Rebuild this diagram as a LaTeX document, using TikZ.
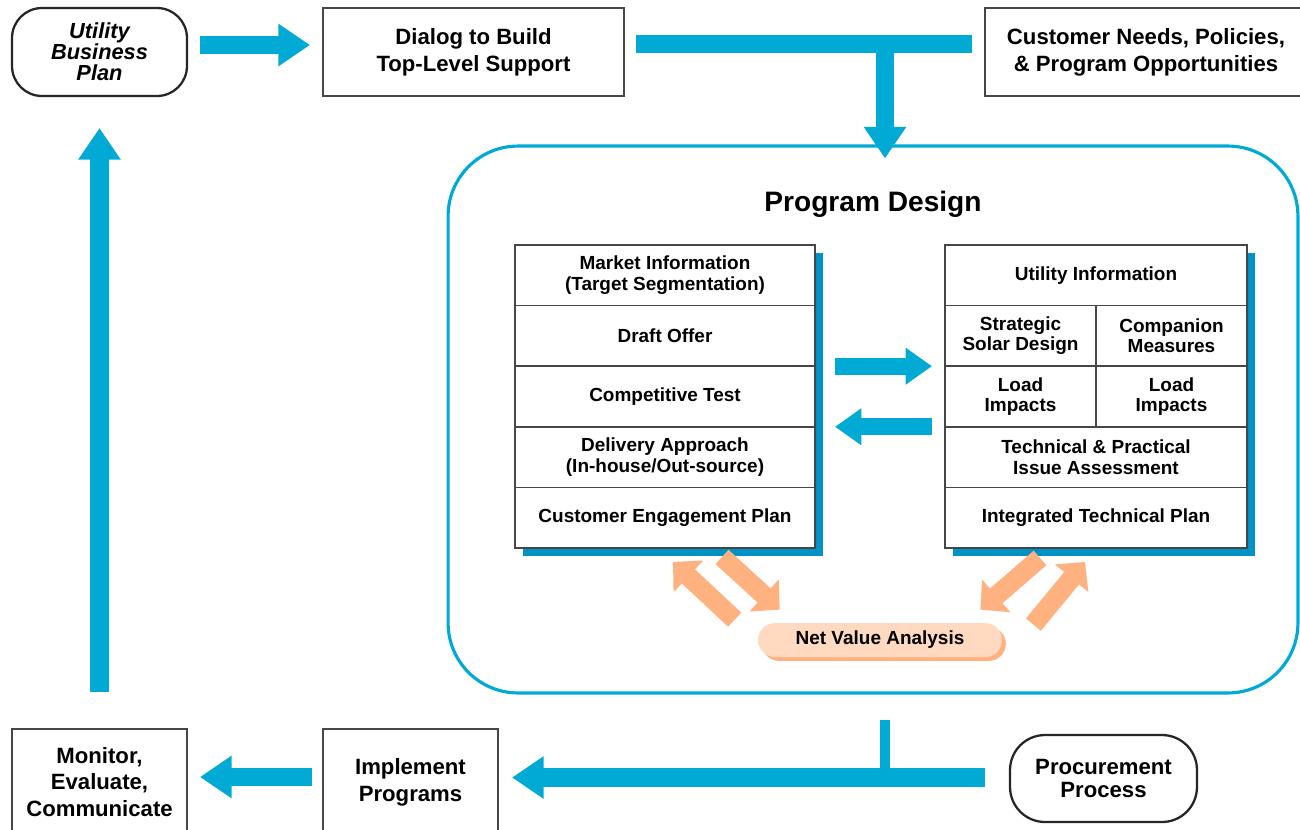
\documentclass[tikz,border=0pt]{standalone}
\usepackage{fontspec}
\setmainfont{Liberation Sans}
\usetikzlibrary{positioning, arrows.meta, calc, backgrounds, shadows}

\definecolor{flowblue}{RGB}{0,170,212}
\definecolor{shadeblue}{RGB}{0,146,196}
\definecolor{peach}{RGB}{255,178,128}
\definecolor{peachlight}{RGB}{255,218,192}
\definecolor{boxgray}{RGB}{70,70,70}

\newcommand\flowtop{\fontsize{12.6}{15.2}\selectfont\bfseries}
\newcommand\flowplan{\fontsize{12.4}{12}\selectfont\bfseries\itshape}
\newcommand\flowcell{\fontsize{10.8}{11.6}\selectfont\bfseries}
\newcommand\flowtitle{\fontsize{16}{19}\selectfont\bfseries}

\begin{document}
\begin{tikzpicture}[
    x=0.02cm, y=-0.02cm,
    plainbox/.style={draw=boxgray, line width=1.3pt, fill=white, align=center, font=\flowtop, minimum width=3.5cm, minimum height=1.76cm, outer sep=0pt},
    ovalbox/.style={plainbox, draw=black!85, rounded corners=0.6cm},
    cell/.style={draw=boxgray, line width=0.9pt, fill=white, align=center, font=\flowcell, minimum width=6cm, minimum height=1.212cm, inner sep=2pt, outer sep=0pt},
    halfcell/.style={cell, minimum width=3.02cm},
    pill/.style={fill=peachlight, rounded corners=0.34cm, minimum width=4.88cm, minimum height=0.68cm, font=\flowcell, drop shadow={shadow xshift=2.2pt, shadow yshift=-2.2pt, fill=peach, opacity=1}},
    bluearrow/.style={draw=flowblue, line width=10.5pt, -{Triangle[length=18pt, width=23pt]}},
    blueline/.style={draw=flowblue, line width=10.5pt},
    midarrow/.style={draw=flowblue, line width=9.5pt, -{Triangle[length=15pt, width=20pt]}},
    peacharrow/.style={draw=peach, line width=11pt, -{Triangle[length=12pt, width=24pt]}}
]
    \useasboundingbox (0,0) rectangle (1300,829);

    % Top row
    \node[ovalbox, font=\flowplan] (plan) at (99.5,52) {Utility\\Business\\Plan};
    \node[plainbox, minimum width=6.02cm] (dialog) at (473.5,52) {Dialog to Build\\Top-Level Support};
    \node[plainbox, minimum width=6.44cm] (needs) at (1146,52) {Customer Needs, Policies,\\\& Program Opportunities};

    % Program design frame
    \node[draw=flowblue, line width=1.8pt, rounded corners=1.4cm, minimum width=17cm, minimum height=10.94cm] (design) at (873,419.5) {};
    \node[font=\flowtitle] (title) at (873,204) {Program Design};

    % Market column
    \node[cell] (m1) at (665,275.3) {Market Information\\(Target Segmentation)};
    \node[cell, below=0pt of m1] (m2) {Draft Offer};
    \node[cell, below=0pt of m2] (m3) {Competitive Test};
    \node[cell, below=0pt of m3] (m4) {Delivery Approach\\(In-house/Out-source)};
    \node[cell, below=0pt of m4] (m5) {Customer Engagement Plan};

    % Utility column
    \node[cell, minimum width=6.04cm] (r1) at (1096,275.3) {Utility Information};
    \node[halfcell, anchor=north west] (r2a) at (r1.south west) {Strategic\\Solar Design};
    \node[halfcell, right=0pt of r2a] (r2b) {Companion\\Measures};
    \node[halfcell, below=0pt of r2a] (r3a) {Load\\Impacts};
    \node[halfcell, below=0pt of r2b] (r3b) {Load\\Impacts};
    \node[cell, minimum width=6.04cm, anchor=north west] (r4) at (r3a.south west) {Technical \& Practical\\Issue Assessment};
    \node[cell, minimum width=6.04cm, below=0pt of r4] (r5) {Integrated Technical Plan};

    % Column shadows
    \begin{scope}[on background layer]
        \fill[shadeblue] ($(m1.north west)+(8,8)$) rectangle ($(m5.south east)+(8,8)$);
        \fill[shadeblue] ($(r1.north west)+(8,8)$) rectangle ($(r5.south east)+(8,8)$);
    \end{scope}

    \node[pill] (nva) at (880,640) {Net Value Analysis};

    % Bottom row
    \node[plainbox, minimum height=2.12cm] (monitor) at (99.5,782) {Monitor,\\Evaluate,\\Communicate};
    \node[plainbox, minimum height=2.12cm] (implement) at (410.5,782) {Implement\\Programs};
    \node[ovalbox, minimum width=3.74cm, minimum height=1.74cm, rounded corners=0.7cm, font={\fontsize{12.6}{13.4}\selectfont\bfseries}] (procure) at (1103.5,778.5) {Procurement\\Process};

    % Flow along the top
    \draw[bluearrow] ($(plan.east)+(13,-7)$) -- ($(dialog.west)+(-13,-7)$);
    \draw[blueline] ($(dialog.east)+(12,-8)$) coordinate (lstart) -- ($(needs.west)+(-13,-8)$);
    \coordinate (dtop) at ($(design.north)+(12,0)$);
    \draw[bluearrow] (dtop |- lstart) -- ($(dtop)+(0,14)$);

    % Exchange between the columns
    \draw[midarrow] ($(m3.north east)+(20,0)$) -- ($(r3a.north west)+(-13,0)$);
    \draw[midarrow] ($(r4.north west)+(-13,0)$) -- ($(m4.north east)+(20,0)$);

    % Net value exchange
    \draw[peacharrow] ($(nva.north west)+(-23,-3)$) -- ($(m5.south)+(8,14)$);
    \draw[peacharrow] ($(m5.south)+(57,9)$) -- ($(nva.north west)+(22,-13)$);
    \draw[peacharrow] ($(r5.south)+(-56,10)$) -- ($(nva.north east)+(-22,-13)$);
    \draw[peacharrow] ($(nva.north east)+(31,2)$) -- ($(r5.south)+(-11,14)$);

    % Flow along the bottom
    \draw[bluearrow] ($(procure.west)+(-25,-1)$) coordinate (bstart) -- ($(bstart -| implement.east)+(14,0)$);
    \draw[draw=flowblue, line width=5.5pt] ($(design.south)+(12,25)$) coordinate (dstub) -- (dstub |- bstart);
    \draw[bluearrow] ($(implement.west)+(-11,-5)$) -- ($(monitor.east)+(13,-5)$);
    \draw[bluearrow] ($(monitor.north)+(0,-37)$) -- ($(plan.south)+(0,32)$);

\end{tikzpicture}
\end{document}
